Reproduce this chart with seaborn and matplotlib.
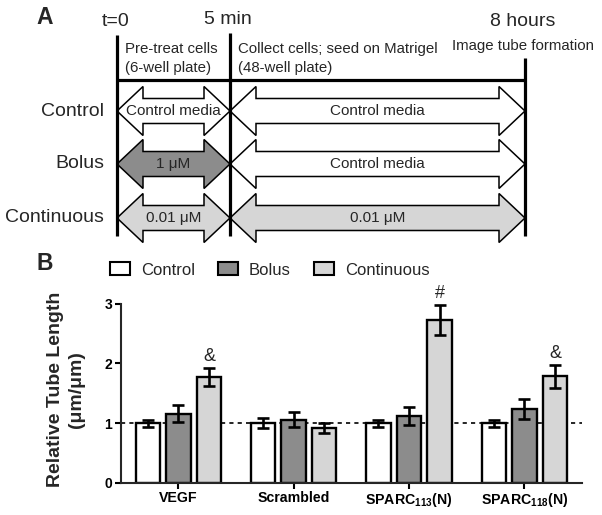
import numpy as np
import pandas as pd
import matplotlib
matplotlib.use("Agg")
import matplotlib.pyplot as plt
from matplotlib.patches import Polygon, Patch
import seaborn as sns

# ---------------- data ----------------
groups = ["VEGF", "Scrambled", "SPARC113(N)", "SPARC118(N)"]
tick_labels = ["VEGF", "Scrambled", r"SPARC$_{\mathbf{113}}$(N)", r"SPARC$_{\mathbf{118}}$(N)"]
conditions = ["Control", "Bolus", "Continuous"]
control_mean = [1.00, 1.00, 1.00, 1.00]
bolus_mean = [1.16, 1.06, 1.12, 1.24]
continuous_mean = [1.77, 0.92, 2.72, 1.78]
control_sem = [0.06, 0.08, 0.06, 0.06]
bolus_sem = [0.14, 0.13, 0.15, 0.17]
continuous_sem = [0.15, 0.09, 0.25, 0.19]
continuous_marks = ["&", "", "#", "&"]
y_ticks = [0, 1, 2, 3]

# schematic (panel A) content
time_labels = ["t=0", "5 min", "8 hours"]
phase1_lines = ["Pre-treat cells", "(6-well plate)"]
phase2_lines = ["Collect cells; seed on Matrigel", "(48-well plate)"]
end_label = "Image tube formation"
row_labels = ["Control", "Bolus", "Continuous"]
seg1_labels = ["Control media", "1 \u03bcM", "0.01 \u03bcM"]
seg2_labels = ["Control media", "Control media", "0.01 \u03bcM"]

# ---------------- style ----------------
sns.set_style("ticks")
plt.rcParams["font.family"] = ["Liberation Sans", "DejaVu Sans"]
plt.rcParams["mathtext.fontset"] = "custom"
plt.rcParams["mathtext.rm"] = "Liberation Sans"
plt.rcParams["mathtext.bf"] = "Liberation Sans:bold"

W, H = 602, 515
fig = plt.figure(figsize=(W / 100, H / 100), dpi=100)

WHITE = "#ffffff"
DARK = "#8c8c8c"
LIGHT = "#d6d6d6"
cond_colors = {"Control": WHITE, "Bolus": DARK, "Continuous": LIGHT}
seg1_fill = [WHITE, DARK, LIGHT]
seg2_fill = [WHITE, WHITE, LIGHT]

# ---------------- panel A (schematic) ----------------
axA = fig.add_axes([0, 1 - 250 / H, 1, 250 / H])
axA.set_xlim(0, W)
axA.set_ylim(250, 0)
axA.axis("off")

time_x = [117, 230, 525]
time_top = [35, 33, 58]
line_bottom = 236
head_len, shaft_h, head_h = 26, 12.5, 24.5
row_y = [111, 164, 218]


def double_arrow(x0, x1, yc, fc):
    pts = [(x0, yc), (x0 + head_len, yc - head_h), (x0 + head_len, yc - shaft_h),
           (x1 - head_len, yc - shaft_h), (x1 - head_len, yc - head_h), (x1, yc),
           (x1 - head_len, yc + head_h), (x1 - head_len, yc + shaft_h),
           (x0 + head_len, yc + shaft_h), (x0 + head_len, yc + head_h)]
    axA.add_patch(Polygon(pts, closed=True, facecolor=fc, edgecolor="black",
                          lw=1.1, zorder=2))


for i, yc in enumerate(row_y):
    double_arrow(time_x[0], time_x[1], yc, seg1_fill[i])
    double_arrow(time_x[1], time_x[2], yc, seg2_fill[i])
    axA.text((time_x[0] + time_x[1]) / 2, yc, seg1_labels[i], ha="center",
             va="center", fontsize=11, zorder=4)
    axA.text((time_x[1] + time_x[2]) / 2, yc, seg2_labels[i], ha="center",
             va="center", fontsize=11, zorder=4)
    axA.text(104, yc, row_labels[i], ha="right", va="center", fontsize=14)

for x, top in zip(time_x, time_top):
    axA.plot([x, x], [top, line_bottom], color="black", lw=2.3, zorder=5,
             solid_capstyle="butt")
axA.plot([time_x[0], time_x[2]], [80, 80], color="black", lw=2.3, zorder=5,
         solid_capstyle="butt")

for x, lab, ty in zip([116, 228, 523], time_labels, [21, 20, 22]):
    axA.text(x, ty, lab, ha="center", va="center", fontsize=14)

axA.text(125, 49, phase1_lines[0], ha="left", va="center", fontsize=10.8)
axA.text(125, 68, phase1_lines[1], ha="left", va="center", fontsize=10.8)
axA.text(238, 49, phase2_lines[0], ha="left", va="center", fontsize=10.8)
axA.text(238, 68, phase2_lines[1], ha="left", va="center", fontsize=10.8)
axA.text(523.5, 46, end_label, ha="center", va="center", fontsize=10.8)

fig.text(36 / W, 1 - 17 / H, "A", fontsize=16.5, fontweight="bold",
         ha="left", va="center")
fig.text(36 / W, 1 - 264 / H, "B", fontsize=16.5, fontweight="bold",
         ha="left", va="center")

# ---------------- panel B (bar chart) ----------------
left, right, bottom, top = 120.7, 582, 483, 303.5
axB = fig.add_axes([left / W, 1 - bottom / H, (right - left) / W, (bottom - top) / H])

means = {"Control": control_mean, "Bolus": bolus_mean, "Continuous": continuous_mean}
sems = {"Control": control_sem, "Bolus": bolus_sem, "Continuous": continuous_sem}
rows = []
for c in conditions:
    for g, m, s in zip(groups, means[c], sems[c]):
        rows.append({"group": g, "condition": c, "value": m, "sem": s})
df = pd.DataFrame(rows)

sns.barplot(data=df, x="group", y="value", hue="condition", order=groups,
            hue_order=conditions, palette=cond_colors, edgecolor="black",
            linewidth=1.7, errorbar=None, width=0.795, gap=0.2, ax=axB,
            legend=False, zorder=2)

for ci, c in enumerate(conditions):
    cont = axB.containers[ci]
    xs = [b.get_x() + b.get_width() / 2 for b in cont]
    axB.errorbar(xs, means[c], yerr=sems[c], fmt="none", ecolor="black",
                 elinewidth=1.9, capsize=4.2, capthick=1.9, zorder=4)
    if c == "Continuous":
        for x, m, s, mk in zip(xs, means[c], sems[c], continuous_marks):
            if mk:
                axB.text(x, m + s + 0.05, mk, ha="center", va="bottom",
                         fontsize=13, clip_on=False)

axB.axhline(1, color="black", lw=1.2, ls=(0, (2.5, 2.5)), zorder=0.5)
axB.set_xlim(-0.5, 3.5)
axB.set_ylim(0, 3)
axB.set_yticks(y_ticks)
axB.set_yticklabels([str(t) for t in y_ticks], fontweight="bold", fontsize=10)
axB.set_xticks(range(len(groups)))
axB.set_xticklabels(tick_labels, fontweight="bold", fontsize=10.2)
axB.set_xlabel("")
axB.set_ylabel("Relative Tube Length\n(\u03bcm/\u03bcm)", fontsize=14,
               fontweight="bold", linespacing=1.3)
axB.yaxis.set_label_coords(-0.078, 0.52)
sns.despine(ax=axB)
for sp in ["left", "bottom"]:
    axB.spines[sp].set_linewidth(1.5)
axB.tick_params(axis="both", width=1.5, length=4, pad=2, colors="black")

handles = [Patch(facecolor=cond_colors[c], edgecolor="black", lw=1.5, label=c)
           for c in conditions]
fig.legend(handles=handles, loc="center left", ncol=3, frameon=False,
           bbox_to_anchor=(110 / W, 1 - 270 / H), fontsize=12,
           handlelength=1.2, handleheight=0.78, handletextpad=0.65,
           columnspacing=1.4, borderpad=0, borderaxespad=0)

fig.savefig("out.png", dpi=100)
